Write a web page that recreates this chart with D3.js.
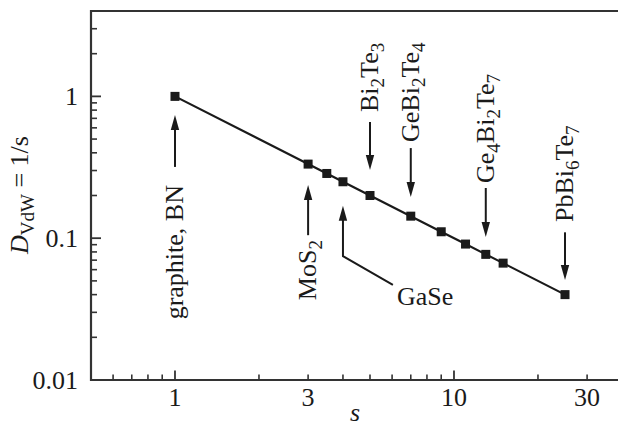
<!DOCTYPE html>
<html>
<head>
<meta charset="utf-8">
<script src="https://cdn.jsdelivr.net/npm/d3@7"></script>
<style>
  html, body { margin: 0; padding: 0; background: #fff; }
  svg { display: block; }
</style>
</head>
<body>
<svg id="chart" width="618" height="426" font-family="'Liberation Serif', Tinos, 'Times New Roman', Times, serif"></svg>
<script>
// ---- data ----
const sValues = [1, 3, 3.5, 4, 5, 7, 9, 11, 13, 15, 25];
const dValues = [1, 0.333, 0.286, 0.25, 0.2, 0.143, 0.111, 0.0909, 0.0769, 0.0667, 0.04];

const xTickLabels = [1, 3, 10, 30];
const xMajorTicks = [1, 10];
const xMinorTicks = [0.6, 0.7, 0.8, 0.9, 2, 3, 4, 5, 6, 7, 8, 9, 20, 30];
const yTickLabels = [1, 0.1, 0.01];
const yTickText = ["1", "0.1", "0.01"];
const yMajorTicks = [1, 0.1];
const yMinorTicks = [3, 2, 0.9, 0.8, 0.7, 0.6, 0.5, 0.4, 0.3, 0.2,
                     0.09, 0.08, 0.07, 0.06, 0.05, 0.04, 0.03, 0.02];

// annotation labels: parts [text, isSub]; arrow at s from D "tail" to D "tip"; text end/start at D "text"
const annotations = [
  { parts: [["graphite, BN", 0]], s: 1, tip: 0.74, tail: 0.318, text: 0.237, dir: "up" },
  { parts: [["MoS", 0], ["2", 1]], s: 3, tip: 0.237, tail: 0.105, text: 0.097, dir: "up" },
  { parts: [["Bi", 0], ["2", 1], ["Te", 0], ["3", 1]], s: 5, tip: 0.303, tail: 0.659, text: 0.776, dir: "down" },
  { parts: [["GeBi", 0], ["2", 1], ["Te", 0], ["4", 1]], s: 7, tip: 0.195, tail: 0.432, text: 0.477, dir: "down" },
  { parts: [["Ge", 0], ["4", 1], ["Bi", 0], ["2", 1], ["Te", 0], ["7", 1]], s: 13, tip: 0.102, tail: 0.226, text: 0.245, dir: "down" },
  { parts: [["PbBi", 0], ["6", 1], ["Te", 0], ["7", 1]], s: 25, tip: 0.0507, tail: 0.110, text: 0.130, dir: "down" }
];
// GaSe: bent arrow path in data space, label position in data space
const gaSePath = [[6.04, 0.0468], [4, 0.0748], [4, 0.169]];
const gaSeLabel = { text: "GaSe", s: 6.25, d: 0.0338 };

// ---- layout ----
const svg = d3.select("#chart");
const FS = 26;
const x = d3.scaleLog().domain([0.5, 50]).range([91, 649]);
const y = d3.scaleLog().domain([0.01, 4]).range([380, 11]);
const ink = "#1a1a1a";
const axisInk = "#333";

// frame (left, top, bottom); right side is outside the picture
const x0 = x.range()[0], x1 = x.range()[1], yTop = y.range()[1], yBot = y.range()[0];
svg.append("path")
  .attr("d", `M${x1},${yTop}H${x0}V${yBot}H${x1}`)
  .attr("fill", "none").attr("stroke", axisInk).attr("stroke-width", 2.2);

// x ticks (inward)
const gx = svg.append("g");
gx.selectAll("line.min").data(xMinorTicks).join("line")
  .attr("x1", d => x(d)).attr("x2", d => x(d))
  .attr("y1", yBot).attr("y2", yBot - 5.5)
  .attr("stroke", axisInk).attr("stroke-width", 1.6);
gx.selectAll("line.maj").data(xMajorTicks).join("line")
  .attr("x1", d => x(d)).attr("x2", d => x(d))
  .attr("y1", yBot).attr("y2", yBot - 9.5)
  .attr("stroke", axisInk).attr("stroke-width", 1.8);
gx.selectAll("text").data(xTickLabels).join("text")
  .attr("x", d => x(d)).attr("y", 406)
  .attr("text-anchor", "middle").attr("font-size", FS).attr("fill", ink)
  .text(d => d);

// y ticks (inward)
const gy = svg.append("g");
gy.selectAll("line.min").data(yMinorTicks).join("line")
  .attr("x1", x0).attr("x2", x0 + 6)
  .attr("y1", d => y(d)).attr("y2", d => y(d))
  .attr("stroke", axisInk).attr("stroke-width", 1.6);
gy.selectAll("line.maj").data(yMajorTicks).join("line")
  .attr("x1", x0).attr("x2", x0 + 10)
  .attr("y1", d => y(d)).attr("y2", d => y(d))
  .attr("stroke", axisInk).attr("stroke-width", 1.8);
gy.selectAll("text").data(yTickLabels).join("text")
  .attr("x", 78).attr("y", d => y(d)).attr("dy", "0.33em")
  .attr("text-anchor", "end").attr("font-size", FS).attr("fill", ink)
  .text((d, i) => yTickText[i]);

// axis titles
const yt = svg.append("text")
  .attr("transform", "translate(28,195) rotate(-90)")
  .attr("text-anchor", "middle").attr("font-size", FS).attr("fill", ink);
yt.append("tspan").attr("font-style", "italic").text("D");
yt.append("tspan").attr("font-size", 19).attr("dy", 6).text("VdW");
yt.append("tspan").attr("dy", -6).text(" = 1/s");

svg.append("text")
  .attr("x", 355).attr("y", 421)
  .attr("text-anchor", "middle").attr("font-size", FS).attr("font-style", "italic").attr("fill", ink)
  .text("s");

// data line and markers
const pts = sValues.map((s, i) => [s, dValues[i]]);
svg.append("path")
  .datum(pts)
  .attr("d", d3.line().x(d => x(d[0])).y(d => y(d[1])))
  .attr("fill", "none").attr("stroke", ink).attr("stroke-width", 2.2);
const M = 9;
svg.selectAll("rect.pt").data(pts).join("rect")
  .attr("x", d => x(d[0]) - M / 2).attr("y", d => y(d[1]) - M / 2)
  .attr("width", M).attr("height", M).attr("fill", ink);

// arrow helper
function arrowHead(px, py, dirSign) {
  // dirSign: -1 pointing up, +1 pointing down
  const L = 15, W = 4.2;
  return `M${px},${py}L${px - W},${py - dirSign * L}L${px + W},${py - dirSign * L}Z`;
}

annotations.forEach(a => {
  const ax = x(a.s);
  const tipY = y(a.tip), tailY = y(a.tail);
  const sign = a.dir === "up" ? -1 : 1;
  svg.append("line")
    .attr("x1", ax).attr("x2", ax)
    .attr("y1", tailY).attr("y2", tipY - sign * 8)
    .attr("stroke", ink).attr("stroke-width", 2);
  svg.append("path").attr("d", arrowHead(ax, tipY, sign)).attr("fill", ink);
  const t = svg.append("text")
    .attr("transform", `translate(${ax + 8},${y(a.text)}) rotate(-90)`)
    .attr("text-anchor", a.dir === "up" ? "end" : "start")
    .attr("font-size", FS).attr("fill", ink);
  let shifted = false;
  a.parts.forEach(([txt, sub]) => {
    const ts = t.append("tspan").text(txt);
    if (sub && !shifted) { ts.attr("font-size", 19).attr("dy", 6); shifted = true; }
    else if (!sub && shifted) { ts.attr("dy", -6); shifted = false; }
    else if (sub) { ts.attr("font-size", 19); }
  });
});

// GaSe bent arrow
{
  const p = gaSePath.map(d => [x(d[0]), y(d[1])]);
  svg.append("path")
    .attr("d", `M${p[0][0]},${p[0][1]}L${p[1][0]},${p[1][1]}L${p[2][0]},${p[2][1] + 8}`)
    .attr("fill", "none").attr("stroke", ink).attr("stroke-width", 2);
  svg.append("path").attr("d", arrowHead(p[2][0], p[2][1], -1)).attr("fill", ink);
}
svg.append("text")
  .attr("x", x(gaSeLabel.s)).attr("y", y(gaSeLabel.d))
  .attr("font-size", FS).attr("fill", ink)
  .text(gaSeLabel.text);
</script>
</body>
</html>
